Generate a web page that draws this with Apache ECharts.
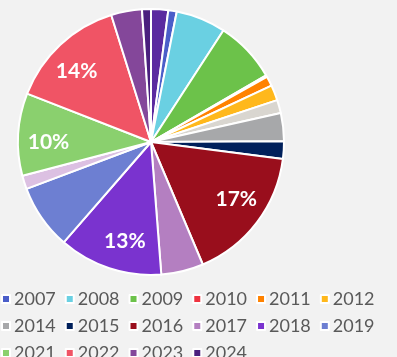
<!DOCTYPE html>
<html>
<head>
<meta charset="utf-8">
<script src="https://cdn.jsdelivr.net/npm/echarts@6/dist/echarts.min.js"></script>
<style>
  html, body { margin: 0; padding: 0; background: #f2f2f2; }
  #chart { width: 397px; height: 357px; }
</style>
</head>
<body>
<div id="chart"></div>
<script>
// Share of items per year
const years = ['2006', '2007', '2008', '2009', '2010', '2011', '2012', '2013', '2014', '2015',
  '2016', '2017', '2018', '2019', '2020', '2021', '2022', '2023', '2024'];
const shares = [7.5, 3.7, 21.8, 27, 0.7, 4.3, 6.7, 5.8, 12.2, 7.7,
  59.8, 18.5, 45.5, 28.4, 5.9, 36.1, 51.3, 13.5, 3.9];
const colors = ['#5b2aa0', '#4b5ec9', '#6ad0e2', '#6cc24a', '#ef3340', '#ff8200', '#ffb81c',
  '#d9d6d0', '#a7a8aa', '#00205b', '#990e1c', '#b47fc1', '#7a33cf', '#6d7fd2', '#dcc0e2',
  '#8ad06e', '#f05465', '#84479a', '#4a1f7e'];
// Years listed in the legend
const legendYears = ['2007', '2008', '2009', '2010', '2011', '2012', '2014', '2015', '2016',
  '2017', '2018', '2019', '2021', '2022', '2023', '2024'];

const slices = years.map((y, i) => ({ name: y, value: shares[i], itemStyle: { color: colors[i] } }));

const chart = echarts.init(document.getElementById('chart'));
chart.setOption({
  backgroundColor: '#f2f2f2',
  animation: false,
  legend: {
    data: legendYears,
    left: 1,
    top: 290,
    width: 396,
    padding: 0,
    icon: 'rect',
    itemWidth: 8,
    itemHeight: 8,
    itemGap: 9,
    textStyle: { color: '#595959', fontSize: 18, fontFamily: 'Lato', padding: [0, 2, 0, -1] }
  },
  series: [
    {
      type: 'pie',
      center: [151, 142],
      radius: 133,
      startAngle: 90,
      clockwise: true,
      data: slices,
      itemStyle: { borderColor: '#ffffff', borderWidth: 2 },
      label: { show: false },
      labelLine: { show: false },
      emphasis: { disabled: true }
    },
    {
      // transparent ring that carries the percentage labels
      type: 'pie',
      center: [151, 142],
      radius: [66, 133],
      startAngle: 93.5,
      clockwise: true,
      silent: true,
      data: years.map((y, i) => ({ name: y, value: shares[i] })),
      itemStyle: { color: 'rgba(0,0,0,0)', borderWidth: 0 },
      label: {
        show: true,
        position: 'inside',
        color: '#ffffff',
        fontFamily: 'Lato',
        fontSize: 21,
        fontWeight: 'bold',
        formatter: p => (p.percent >= 9.5 ? Math.round(p.percent) + '%' : '')
      },
      labelLine: { show: false },
      emphasis: { disabled: true }
    }
  ]
});
</script>
</body>
</html>
